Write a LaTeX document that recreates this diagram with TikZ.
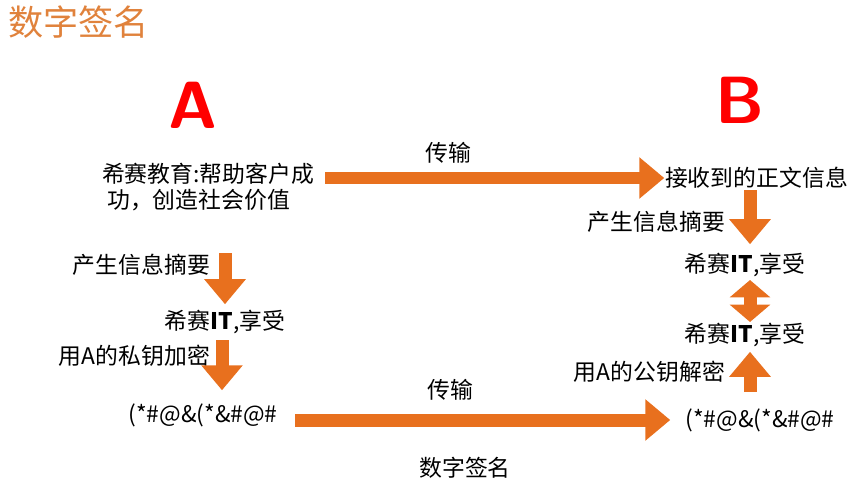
\documentclass[tikz,border=0pt]{standalone}
\usepackage{fontspec}
\setmainfont{Liberation Sans}
\newfontfamily\cjk{Noto Sans CJK SC}
\usetikzlibrary{arrows.meta}
\definecolor{sgorange}{RGB}{232, 112, 30}
\definecolor{sgtitle}{RGB}{224, 130, 60}
\tikzset{
  txt/.style={font=\cjk\fontsize{13}{15}\selectfont, inner sep=1pt},
  bigarrow/.style={sgorange, line width=2.6mm, -{Triangle[length=5mm, width=8mm]}, shorten >=1pt},
  twoarrow/.style={sgorange, line width=2.6mm, {Triangle[length=3.5mm, width=8mm]}-{Triangle[length=3.5mm, width=8mm]}}
}
\begin{document}
\begin{tikzpicture}[x=0.02cm, y=-0.02cm]
\useasboundingbox (0,0) rectangle (861,493);
% title
\node[font=\cjk\fontsize{20}{22}\selectfont, text=sgtitle, anchor=west] (title) at (2,22) {数字签名};
\node[font=\sffamily\bfseries\fontsize{38}{40}\selectfont, text=red] (sideA) at (193,105) {A};
\node[font=\sffamily\bfseries\fontsize{38}{40}\selectfont, text=red] (sideB) at (740,100) {B};

% left side
\node[txt, align=left] (msgA) at (208,187) {希赛教育:帮助客户成\\\ 功，创造社会价值};
\node[txt, anchor=east] (digA) at (212,265) {产生信息摘要};
\node[txt] (hashA) at (225,322) {希赛\textbf{IT},享受};
\node[txt, anchor=east] (encA) at (212,356) {用A的私钥加密};
\node[txt] (sigA) at (203,415) {(*\#@\&(*\&\#@\#};
\coordinate (d1s) at (225,253);
\coordinate (d1e) at (225,306);
\coordinate (d2s) at (222,340);
\coordinate (d2e) at (222,392);
\draw[bigarrow] (d1s) -- (d1e);
\draw[bigarrow] (d2s) -- (d2e);

% right side
\node[txt, anchor=west] (msgB) at (663,178) {接收到的正文信息};
\node[txt, anchor=east] (digB) at (727,222) {产生信息摘要};
\node[txt] (hashB1) at (745,265) {希赛\textbf{IT},享受};
\node[txt] (hashB2) at (745,335) {希赛\textbf{IT},享受};
\node[txt, anchor=east] (decB) at (727,372) {用A的公钥解密};
\node[txt] (sigB) at (760,420) {(*\#@\&(*\&\#@\#};
\coordinate (d3s) at (750,190);
\coordinate (d3e) at (750,246);
\coordinate (d4s) at (750,392);
\coordinate (d4e) at (750,350);
\coordinate (u1) at (750,280);
\coordinate (u2) at (750,322);
\draw[bigarrow] (d3s) -- (d3e);
\draw[twoarrow] (u1) -- (u2);
\draw[bigarrow] (d4s) -- (d4e);

% transfer
\coordinate (t1s) at (325,178);
\coordinate (t1e) at (666,178);
\coordinate (t2s) at (295,420);
\coordinate (t2e) at (672,420);
\draw[bigarrow] (t1s) -- (t1e);
\draw[bigarrow] (t2s) -- (t2e);
\node[txt] (send1) at (448,153) {传输};
\node[txt] (send2) at (450,390) {传输};
\node[txt] (caption) at (465,468) {数字签名};
\end{tikzpicture}
\end{document}
